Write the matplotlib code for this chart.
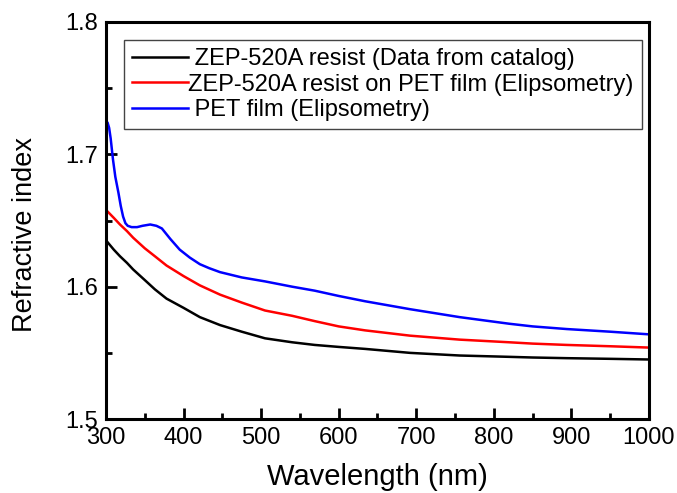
import matplotlib.pyplot as plt
from matplotlib.ticker import MultipleLocator

plt.rcParams["font.family"] = ["Liberation Sans", "DejaVu Sans"]

# ZEP-520A resist, catalog values
wl_cat = [300, 310, 318, 327, 335, 350, 363, 378, 400, 421, 447, 475, 505,
          540, 569, 600, 634, 692, 756, 820, 850, 894, 950, 1000]
n_cat = [1.635, 1.628, 1.623, 1.618, 1.613, 1.605, 1.598, 1.591, 1.584,
         1.577, 1.571, 1.566, 1.561, 1.558, 1.556, 1.5545, 1.553, 1.550,
         1.548, 1.547, 1.5465, 1.546, 1.5455, 1.545]

# ZEP-520A resist on PET film, ellipsometry
wl_zep = [300, 310, 318, 327, 335, 350, 363, 378, 400, 421, 447, 475, 505,
          540, 569, 600, 634, 692, 756, 820, 850, 894, 950, 1000]
n_zep = [1.658, 1.652, 1.647, 1.642, 1.637, 1.629, 1.623, 1.616, 1.608,
         1.601, 1.594, 1.588, 1.582, 1.578, 1.574, 1.570, 1.567, 1.563,
         1.560, 1.558, 1.557, 1.556, 1.555, 1.554]

# PET film, ellipsometry
wl_pet = [300, 302, 304, 306, 309, 312, 316, 319, 322, 325, 328, 333, 340, 347,
          357, 365, 372, 383, 395, 408, 421, 433, 447, 475, 505, 540, 569, 600,
          634, 692, 756, 820, 850, 894, 950, 1000]
n_pet = [1.725, 1.724, 1.720, 1.712, 1.696, 1.683, 1.671, 1.661, 1.653, 1.648,
         1.646, 1.645, 1.645, 1.646, 1.647, 1.646, 1.644, 1.636, 1.628, 1.622,
         1.617, 1.614, 1.611, 1.607, 1.604, 1.600, 1.597, 1.593, 1.589, 1.583,
         1.577, 1.572, 1.570, 1.568, 1.566, 1.564]

labels = [
    " ZEP-520A resist (Data from catalog)",
    "ZEP-520A resist on PET film (Elipsometry)",
    " PET film (Elipsometry)",
]

fig = plt.figure(figsize=(6.77, 4.93), dpi=100)
ax = fig.add_axes([0.1566, 0.150, 0.802, 0.8054])

ax.plot(wl_cat, n_cat, color="black", lw=1.8, label=labels[0])
ax.plot(wl_zep, n_zep, color="red", lw=1.8, label=labels[1])
ax.plot(wl_pet, n_pet, color="blue", lw=1.8, label=labels[2])

ax.set_xlim(300, 1000)
ax.set_ylim(1.5, 1.8)
ax.xaxis.set_major_locator(MultipleLocator(100))
ax.xaxis.set_minor_locator(MultipleLocator(50))
ax.yaxis.set_major_locator(MultipleLocator(0.1))
ax.yaxis.set_minor_locator(MultipleLocator(0.05))
ax.tick_params(which="both", direction="in", top=False, right=False,
               labelsize=17)
ax.tick_params(which="major", length=8, width=2, pad=6)
ax.tick_params(which="minor", length=4, width=2)
for sp in ax.spines.values():
    sp.set_linewidth(2.2)

ax.set_xlabel("Wavelength (nm)", fontsize=21, labelpad=10)
ax.set_ylabel("Refractive index", fontsize=19.5)
ax.yaxis.set_label_coords(-0.125, 0.466)

leg = ax.legend(loc="upper left", bbox_to_anchor=(0.033, 0.955),
                borderaxespad=0, fontsize=17, handlelength=2.35,
                handletextpad=0.0, labelspacing=0.14, fancybox=False,
                framealpha=1, edgecolor="#444444", borderpad=0.36)
leg.get_frame().set_linewidth(1.0)

fig.savefig("out.png", dpi=100)
